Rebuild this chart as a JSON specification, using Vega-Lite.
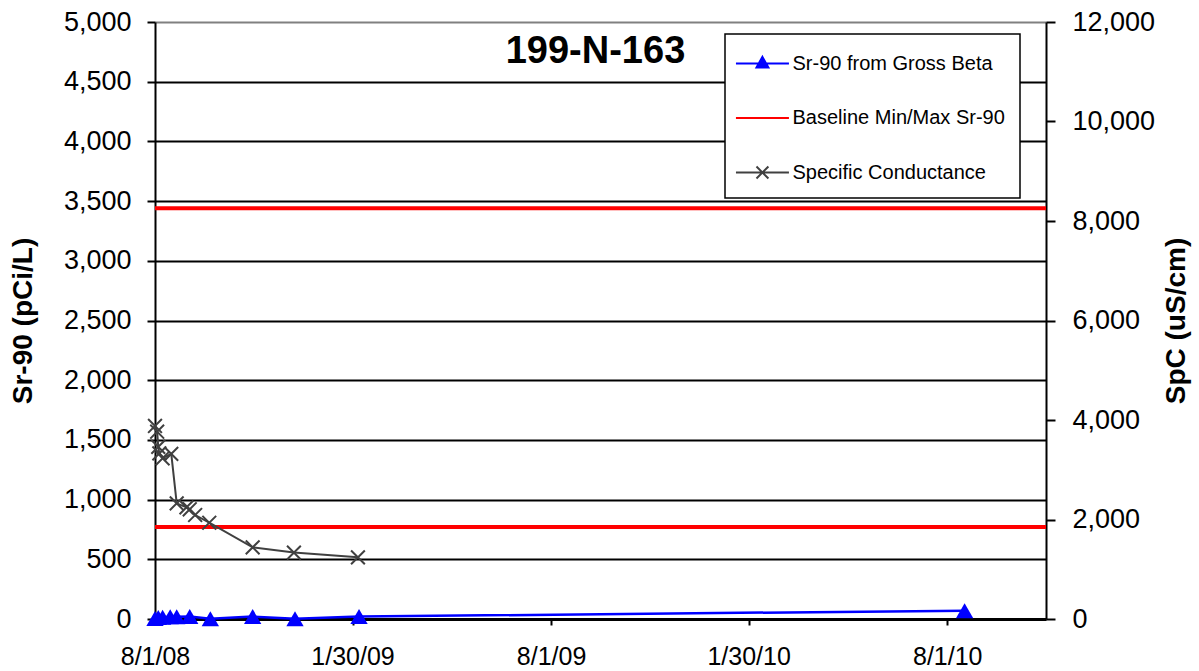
{
  "$schema": "https://vega.github.io/schema/vega-lite/v6.json",
  "width": 891,
  "height": 597,
  "autosize": {"type": "none"},
  "padding": {"left": 155, "top": 22, "right": 153, "bottom": 52},
  "background": "white",
  "config": {"view": {"stroke": null}, "font": "Liberation Sans"},
  "title": {
    "text": "199-N-163",
    "font": "Liberation Sans",
    "fontSize": 38,
    "fontWeight": "bold",
    "color": "black",
    "anchor": "middle",
    "frame": "group",
    "orient": "top",
    "baseline": "alphabetic",
    "offset": -41,
    "dy": 52,
    "dx": -5
  },
  "datasets": {
    "baseline": [
      {"series": "Baseline Min/Max Sr-90", "value": 770},
      {"series": "Baseline Min/Max Sr-90", "value": 3440}
    ],
    "sr90": [
      {"series": "Sr-90 from Gross Beta", "date": "2008-08-01", "value": 5},
      {"series": "Sr-90 from Gross Beta", "date": "2008-08-04", "value": 12},
      {"series": "Sr-90 from Gross Beta", "date": "2008-08-08", "value": 15},
      {"series": "Sr-90 from Gross Beta", "date": "2008-08-15", "value": 18},
      {"series": "Sr-90 from Gross Beta", "date": "2008-08-21", "value": 18},
      {"series": "Sr-90 from Gross Beta", "date": "2008-09-02", "value": 20},
      {"series": "Sr-90 from Gross Beta", "date": "2008-09-21", "value": 2},
      {"series": "Sr-90 from Gross Beta", "date": "2008-10-30", "value": 20},
      {"series": "Sr-90 from Gross Beta", "date": "2008-12-08", "value": 3},
      {"series": "Sr-90 from Gross Beta", "date": "2009-02-05", "value": 20},
      {"series": "Sr-90 from Gross Beta", "date": "2010-08-17", "value": 70}
    ],
    "spc": [
      {"series": "Specific Conductance", "date": "2008-08-01", "spc": 3880},
      {"series": "Specific Conductance", "date": "2008-08-03", "spc": 3765},
      {"series": "Specific Conductance", "date": "2008-08-04", "spc": 3460},
      {"series": "Specific Conductance", "date": "2008-08-05", "spc": 3330},
      {"series": "Specific Conductance", "date": "2008-08-08", "spc": 3230},
      {"series": "Specific Conductance", "date": "2008-08-16", "spc": 3320},
      {"series": "Specific Conductance", "date": "2008-08-21", "spc": 2325},
      {"series": "Specific Conductance", "date": "2008-08-30", "spc": 2245},
      {"series": "Specific Conductance", "date": "2008-09-02", "spc": 2205},
      {"series": "Specific Conductance", "date": "2008-09-07", "spc": 2090},
      {"series": "Specific Conductance", "date": "2008-09-20", "spc": 1935},
      {"series": "Specific Conductance", "date": "2008-10-30", "spc": 1440},
      {"series": "Specific Conductance", "date": "2008-12-07", "spc": 1335},
      {"series": "Specific Conductance", "date": "2009-02-04", "spc": 1240}
    ]
  },
  "layer": [
    {
      "layer": [
        {
          "data": {"name": "baseline"},
          "mark": {"type": "rule", "strokeWidth": 4},
          "encoding": {
            "y": {
              "field": "value",
              "type": "quantitative",
              "scale": {"domain": [0, 5000], "nice": false, "zero": true},
              "axis": {
                "orient": "left",
                "values": [0, 500, 1000, 1500, 2000, 2500, 3000, 3500, 4000, 4500, 5000],
                "format": ",.0f",
                "labelFont": "Liberation Sans",
                "labelFontSize": 27,
                "labelColor": "black",
                "labelPadding": 16,
                "tickColor": "black",
                "tickSize": 8,
                "tickWidth": 2,
                "domainColor": "black",
                "domainWidth": 2,
                "grid": true,
                "gridColor": {"condition": {"test": "datum.value === 5000", "value": "#808080"}, "value": "black"},
                "gridWidth": 2,
                "title": "Sr-90 (pCi/L)",
                "titleFont": "Liberation Sans",
                "titleFontSize": 28,
                "titleFontWeight": "bold",
                "titleColor": "black",
                "titlePadding": 26
              }
            },
            "color": {
              "field": "series",
              "type": "nominal",
              "scale": {
                "domain": ["Sr-90 from Gross Beta", "Baseline Min/Max Sr-90", "Specific Conductance"],
                "range": ["#0000FF", "#FF0000", "#404040"]
              },
              "legend": {
                "title": null,
                "orient": "none",
                "legendX": 570,
                "legendY": 12,
                "direction": "vertical",
                "fillColor": "white",
                "strokeColor": "black",
                "padding": 15,
                "labelFont": "Liberation Sans",
                "labelFontSize": 20,
                "labelColor": "black",
                "labelOffset": 23.5,
                "labelLimit": 400,
                "rowPadding": 29.5,
                "symbolSize": 702,
                "symbolStrokeWidth": 2,
                "encode": {
                  "legend": {"update": {"strokeWidth": {"value": 1.5}}},
                  "symbols": {
                    "update": {
                      "shape": {"signal": "datum.value === 'Sr-90 from Gross Beta' ? 'M-1.4,0L2.6,0M0.6,-0.5L1.05,0.3L0.15,0.3Z' : (datum.value === 'Specific Conductance' ? 'M-1.4,0L2.6,0M0.15,-0.45L1.05,0.45M0.15,0.45L1.05,-0.45' : 'M-1.4,0L2.6,0')"},
                      "fill": {"signal": "datum.value === 'Sr-90 from Gross Beta' ? '#0000FF' : 'transparent'"},
                      "stroke": {"signal": "datum.value === 'Sr-90 from Gross Beta' ? '#0000FF' : (datum.value === 'Baseline Min/Max Sr-90' ? '#FF0000' : '#404040')"},
                      "strokeWidth": {"value": 2},
                      "size": {"value": 702},
                      "opacity": {"value": 1}
                    }
                  }
                }
              }
            }
          }
        },
        {
          "data": {"name": "sr90"},
          "mark": {"type": "line", "strokeWidth": 2.5, "point": {"shape": "triangle-up", "size": 300, "filled": true}},
          "encoding": {
            "x": {
              "field": "date",
              "type": "temporal",
              "scale": {
                "type": "utc",
                "domain": [
                  {"year": 2008, "month": 8, "date": 1, "utc": true},
                  {"year": 2010, "month": 10, "date": 31, "utc": true}
                ],
                "nice": false
              },
              "axis": {
                "values": [
                  {"year": 2008, "month": 8, "date": 1, "utc": true},
                  {"year": 2009, "month": 1, "date": 30, "utc": true},
                  {"year": 2009, "month": 8, "date": 1, "utc": true},
                  {"year": 2010, "month": 1, "date": 30, "utc": true},
                  {"year": 2010, "month": 8, "date": 1, "utc": true}
                ],
                "format": "%-m/%-d/%y",
                "labelFont": "Liberation Sans",
                "labelFontSize": 25,
                "labelColor": "black",
                "labelPadding": 19,
                "labelAngle": 0,
                "labelFlush": false,
                "labelOverlap": false,
                "tickColor": "black",
                "tickSize": 6,
                "tickWidth": 2,
                "domainColor": "black",
                "domainWidth": 3,
                "grid": false,
                "title": null
              }
            },
            "y": {"field": "value", "type": "quantitative"},
            "color": {"field": "series", "type": "nominal"}
          }
        }
      ]
    },
    {
      "data": {"name": "spc"},
      "mark": {
        "type": "line",
        "strokeWidth": 2,
        "point": {"shape": "M-1,-1L1,1M-1,1L1,-1", "size": 190, "filled": false, "strokeWidth": 2}
      },
      "encoding": {
        "x": {"field": "date", "type": "temporal"},
        "y": {
          "field": "spc",
          "type": "quantitative",
          "scale": {"domain": [0, 12000], "nice": false},
          "axis": {
            "orient": "right",
            "values": [0, 2000, 4000, 6000, 8000, 10000, 12000],
            "format": ",.0f",
            "labelFont": "Liberation Sans",
            "labelFontSize": 27,
            "labelColor": "black",
            "labelPadding": 17,
            "tickColor": "black",
            "tickSize": 9,
            "tickWidth": 2,
            "domainColor": "black",
            "domainWidth": 2,
            "grid": false,
            "title": "SpC (uS/cm)",
            "titleFont": "Liberation Sans",
            "titleFontSize": 28,
            "titleFontWeight": "bold",
            "titleColor": "black",
            "titleAngle": 270,
            "titlePadding": 36
          }
        },
        "color": {"field": "series", "type": "nominal"}
      }
    }
  ],
  "resolve": {"scale": {"y": "independent"}}
}
